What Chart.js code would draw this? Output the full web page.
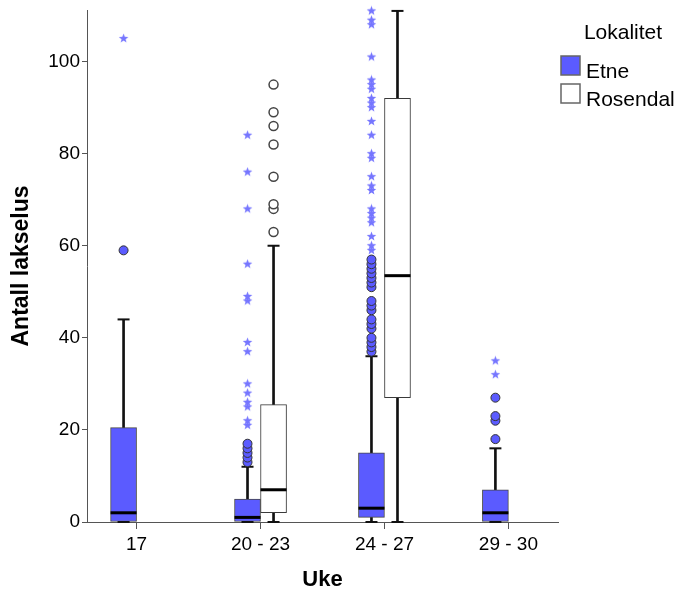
<!DOCTYPE html>
<html>
<head>
<meta charset="utf-8">
<script src="https://cdn.jsdelivr.net/npm/chart.js@4.4.1/dist/chart.umd.min.js"></script>
<style>
  html, body { margin: 0; padding: 0; background: #fff; }
  #wrap { width: 688px; height: 594px; position: relative; }
</style>
</head>
<body>
<div id="wrap"><canvas id="liceChart"></canvas></div>
<script>
// categories and axis ticks
const weeks = ['17', '20 - 23', '24 - 27', '29 - 30'];
const yTicks = [0, 20, 40, 60, 80, 100];

// Etne: box summaries per week group
const etneLow = [0, 0, 0, 0];
const etneQ1 = [0, 0, 1, 0];
const etneMedian = [2, 1, 3, 2];
const etneQ3 = [20.5, 5, 15, 7];
const etneHigh = [44, 12, 36, 16];
const etneOutliers = [
    [59],
    [13, 14, 15, 16, 17],
    [37, 38, 39, 40, 42, 43, 44, 46, 47, 48, 51, 52, 53, 54, 55, 56, 57],
    [18, 22, 23, 27]
];
const etneExtremes = [
    [105],
    [21, 22, 25, 26, 28, 30, 37, 39, 48, 49, 56, 68, 76, 84],
    [59, 60, 62, 65, 66, 67, 68, 72, 73, 75, 79, 80, 84, 87, 90, 91, 92, 94, 95, 96, 101, 108, 109, 111],
    [32, 35]
];

// Rosendal: only measured in two of the week groups
const rosendalLow = [null, 0, 0, null];
const rosendalQ1 = [null, 2, 27, null];
const rosendalMedian = [null, 7, 53.5, null];
const rosendalQ3 = [null, 25.5, 92, null];
const rosendalHigh = [null, 60, 111, null];
const rosendalOutliers = [[], [63, 68, 69, 75, 82, 86, 89, 95], [], []];

const FONT = "'Liberation Sans', Arial, sans-serif";
const ETNE_BLUE = '#5b5bff';
const SHIFT = 0.105; // side-by-side offset of the two sites within a week group

// small five-pointed star used for extreme values
function makeStar(color) {
    const c = document.createElement('canvas');
    c.width = 11; c.height = 11;
    const g = c.getContext('2d');
    g.fillStyle = color;
    g.beginPath();
    for (let k = 0; k < 10; k++) {
        const r = k % 2 === 0 ? 5 : 2.1;
        const a = -Math.PI / 2 + k * Math.PI / 5;
        const px = 5.5 + r * Math.cos(a), py = 5.5 + r * Math.sin(a);
        if (k === 0) g.moveTo(px, py); else g.lineTo(px, py);
    }
    g.closePath();
    g.fill();
    return c;
}
const starIcon = makeStar('#7676ff');

// ---- build datasets from the arrays ----
function boxes(q1, q3, shift) {
    const out = [];
    weeks.forEach((w, i) => {
        if (q1[i] != null) out.push({ x: i + shift, y: [q1[i], q3[i]] });
    });
    return out;
}

const whiskerBars = [];
const capPoints = [];
const medianPoints = [];
[[etneLow, etneQ1, etneQ3, etneHigh, etneMedian, -SHIFT],
 [rosendalLow, rosendalQ1, rosendalQ3, rosendalHigh, rosendalMedian, SHIFT]].forEach(site => {
    const [lo, q1, q3, hi, med, shift] = site;
    weeks.forEach((w, i) => {
        if (q1[i] == null) return;
        const x = i + shift;
        whiskerBars.push({ x: x, y: [q3[i], hi[i]] });
        if (q1[i] > lo[i]) whiskerBars.push({ x: x, y: [lo[i], q1[i]] });
        capPoints.push({ x: x, y: hi[i] }, { x: x, y: lo[i] });
        medianPoints.push({ x: x, y: med[i] });
    });
});

function scatterFrom(lists, shift) {
    const pts = [];
    lists.forEach((vals, i) => vals.forEach(v => pts.push({ x: i + shift, y: v })));
    return pts;
}

const data = {
    datasets: [
        {
            type: 'bar', label: 'Etne',
            data: boxes(etneQ1, etneQ3, -SHIFT),
            backgroundColor: ETNE_BLUE, borderColor: '#474747', borderWidth: 1,
            borderSkipped: false, barThickness: 26, grouped: false, order: 4
        },
        {
            type: 'bar', label: 'Rosendal',
            data: boxes(rosendalQ1, rosendalQ3, SHIFT),
            backgroundColor: '#ffffff', borderColor: '#3a3a3a', borderWidth: 1,
            borderSkipped: false, barThickness: 26, grouped: false, order: 4
        },
        {
            type: 'bar', label: 'whiskers', data: whiskerBars,
            backgroundColor: '#111', borderWidth: 0, barThickness: 2, grouped: false, order: 5
        },
        {
            type: 'scatter', label: 'caps', data: capPoints,
            pointStyle: 'line', radius: 6, borderColor: '#111', borderWidth: 2, order: 3, clip: false
        },
        {
            type: 'scatter', label: 'medians', data: medianPoints,
            pointStyle: 'line', radius: 13, borderColor: '#000', borderWidth: 3, order: 2
        },
        {
            type: 'scatter', label: 'etneOut', data: scatterFrom(etneOutliers, -SHIFT),
            pointStyle: 'circle', radius: 4.5, backgroundColor: ETNE_BLUE,
            borderColor: '#333', borderWidth: 1, order: 1, clip: false
        },
        {
            type: 'scatter', label: 'etneExt', data: scatterFrom(etneExtremes, -SHIFT),
            pointStyle: starIcon, order: 1, clip: false
        },
        {
            type: 'scatter', label: 'rosOut', data: scatterFrom(rosendalOutliers, SHIFT),
            pointStyle: 'circle', radius: 4.5, backgroundColor: '#fff',
            borderColor: '#444', borderWidth: 1.5, order: 1, clip: false
        }
    ]
};

// site legend in the right margin: title plus one swatch per box dataset
const siteLegend = {
    id: 'siteLegend',
    afterDraw(chart) {
        const ctx = chart.ctx;
        const left = chart.chartArea.right + 3;
        ctx.save();
        ctx.fillStyle = '#000';
        ctx.textBaseline = 'alphabetic';
        ctx.textAlign = 'center';
        ctx.font = `21px ${FONT}`;
        ctx.fillText('Lokalitet', left + 62, 39);
        ctx.textAlign = 'left';
        chart.data.datasets.slice(0, 2).forEach((ds, k) => {
            const top = 56 + k * 28;
            ctx.fillStyle = ds.backgroundColor;
            ctx.strokeStyle = '#666';
            ctx.lineWidth = 1.5;
            ctx.fillRect(left, top, 19, 19);
            ctx.strokeRect(left, top, 19, 19);
            ctx.fillStyle = '#000';
            ctx.fillText(ds.label, left + 25, top + 22);
        });
        ctx.restore();
    }
};

new Chart(document.getElementById('liceChart'), {
    type: 'bar',
    data: data,
    plugins: [siteLegend],
    options: {
        responsive: true,
        maintainAspectRatio: false,
        animation: false,
        events: [],
        layout: { autoPadding: false, padding: { top: 10, right: 130, bottom: 0, left: 0 } },
        plugins: {
            tooltip: { enabled: false },
            legend: { display: false }
        },
        scales: {
            x: {
                type: 'linear', min: -0.4, max: 3.4, offset: false,
                afterBuildTicks: axis => { axis.ticks = weeks.map((w, i) => ({ value: i })); },
                ticks: {
                    callback: v => weeks[v], color: '#000', padding: 4,
                    font: { family: FONT, size: 19 }, maxRotation: 0
                },
                grid: { offset: false, drawOnChartArea: false, tickLength: 7, color: '#555' },
                border: { color: '#555' },
                title: {
                    display: true, text: 'Uke', color: '#000',
                    font: { family: FONT, size: 22, weight: 'bold' }, padding: { top: 10, bottom: 1 }
                },
                afterFit: axis => { axis.height = 72; }
            },
            y: {
                min: 0, max: 111.2,
                afterBuildTicks: axis => { axis.ticks = yTicks.map(v => ({ value: v })); },
                ticks: { color: '#000', padding: 2, font: { family: FONT, size: 19 } },
                grid: { drawOnChartArea: false, tickLength: 5, color: '#555' },
                border: { color: '#555' },
                title: {
                    display: true, text: 'Antall lakselus', color: '#000',
                    font: { family: FONT, size: 23, weight: 'bold' }, padding: { top: 8, bottom: 0 }
                },
                afterFit: axis => { axis.width = 87; axis.paddingTop = 0; axis.paddingBottom = 0; }
            }
        }
    }
});
</script>
</body>
</html>
